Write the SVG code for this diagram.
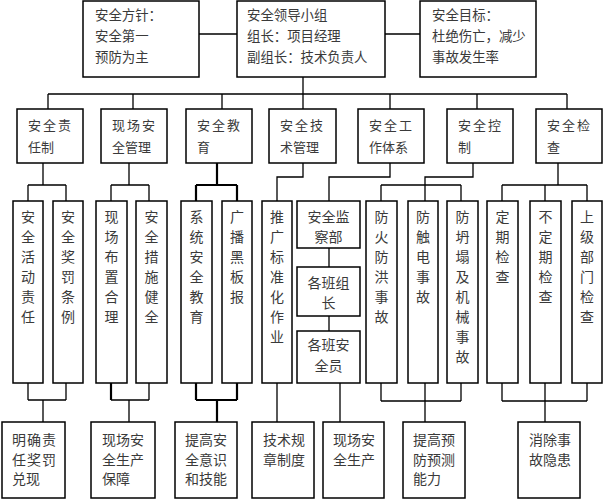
<svg xmlns="http://www.w3.org/2000/svg" width="604" height="500" viewBox="0 0 604 500">
<style>
.box{fill:#fff;stroke:#000;stroke-width:1.5}
.c{fill:none;stroke:#000;stroke-width:1.3}
.ck{fill:none;stroke:#000;stroke-width:2.2}
text{font-family:"Noto Sans CJK SC",sans-serif;font-size:14px;fill:#3a3a3a}
.s{font-size:13px}
.top{font-size:13.4px}
.m{text-anchor:middle}
</style>
<rect width="604" height="500" fill="#fff"/>
<g id="connectors">
<path class="c" d="M199 34H237M385 34H420M303 77V94M48 94H567M48 94V109M133 94V109M222 94V109M303 94V109M390 94V109M477 94V109M567 94V109"/>
<path class="c" d="M43 163V185M28 185H66M28 185V201M66 185V201"/>
<path class="c" d="M129 163V185M111 185H149M111 185V201M149 185V201"/>
<path class="ck" d="M217 163V185M196 185H237M196 185V201M237 185V201"/>
<path class="c" d="M303 163V177H277V201"/>
<path class="c" d="M390 163V177H329V201M329 248V267M329 316V331"/>
<path class="c" d="M473 163V177H425V185M381 185H461M381 185V201M425 185V201M461 185V201"/>
<path class="c" d="M558 163V185M502 185H587M502 185V201M545 185V201M587 185V201"/>
<path class="c" d="M28 383V400M66 383V400M28 400H66M43 400V422"/>
<path class="ck" d="M111 383V400"/>
<path class="c" d="M149 383V400M111 400H149M129 400V422"/>
<path class="ck" d="M196 383V400M237 383V400M196 400H237M217 400V422"/>
<path class="c" d="M277 383V422M340 383V422"/>
<path class="c" d="M381 383V401M425 383V401M461 383V401M381 401H461M425 401V422"/>
<path class="c" d="M502 383V401M545 383V401M587 383V401M502 401H587M545 401V422"/>
</g>
<g id="n-policy"><rect class="box" x="83" y="1" width="116" height="76"/><text class="top" x="95" y="20">安全方针：<tspan x="95" dy="21">安全第一</tspan><tspan x="95" dy="21">预防为主</tspan></text></g>
<g id="n-leader"><rect class="box" x="237" y="1" width="148" height="76"/><text class="top" x="247" y="20">安全领导小组<tspan x="247" dy="21">组长：项目经理</tspan><tspan x="247" dy="21">副组长：技术负责人</tspan></text></g>
<g id="n-goal"><rect class="box" x="420" y="1" width="116" height="76"/><text class="top" x="432" y="20">安全目标：<tspan x="432" dy="21">杜绝伤亡，减少</tspan><tspan x="432" dy="21">事故发生率</tspan></text></g>

<g id="n-a"><rect class="box" x="17" y="109" width="66" height="54"/><text class="s" x="28" y="130" letter-spacing="2">安全责</text><text class="s" x="28" y="152">任制</text></g>
<g id="n-b"><rect class="box" x="101" y="109" width="66" height="54"/><text class="s" x="112" y="130" letter-spacing="2">现场安</text><text class="s" x="112" y="152">全管理</text></g>
<g id="n-c"><rect class="box" x="186" y="109" width="66" height="54"/><text class="s" x="197" y="130" letter-spacing="2">安全教</text><text class="s" x="197" y="152">育</text></g>
<g id="n-d"><rect class="box" x="269" y="109" width="67" height="54"/><text class="s" x="280" y="130" letter-spacing="2">安全技</text><text class="s" x="280" y="152">术管理</text></g>
<g id="n-e"><rect class="box" x="358" y="109" width="66" height="54"/><text class="s" x="369" y="130" letter-spacing="2">安全工</text><text class="s" x="369" y="152">作体系</text></g>
<g id="n-f"><rect class="box" x="447" y="109" width="66" height="54"/><text class="s" x="458" y="130" letter-spacing="2">安全控</text><text class="s" x="458" y="152">制</text></g>
<g id="n-g"><rect class="box" x="536" y="109" width="66" height="54"/><text class="s" x="547" y="130" letter-spacing="2">安全检</text><text class="s" x="547" y="152">查</text></g>

<g id="n-a1"><rect class="box" x="13" y="201" width="30" height="182"/><text class="m" x="28" y="222">安<tspan x="28" dy="20">全</tspan><tspan x="28" dy="20">活</tspan><tspan x="28" dy="20">动</tspan><tspan x="28" dy="20">责</tspan><tspan x="28" dy="20">任</tspan></text></g>
<g id="n-a2"><rect class="box" x="53" y="201" width="30" height="182"/><text class="m" x="68" y="222">安<tspan x="68" dy="20">全</tspan><tspan x="68" dy="20">奖</tspan><tspan x="68" dy="20">罚</tspan><tspan x="68" dy="20">条</tspan><tspan x="68" dy="20">例</tspan></text></g>
<g id="n-b1"><rect class="box" x="96" y="201" width="31" height="182"/><text class="m" x="111.5" y="222">现<tspan x="111.5" dy="20">场</tspan><tspan x="111.5" dy="20">布</tspan><tspan x="111.5" dy="20">置</tspan><tspan x="111.5" dy="20">合</tspan><tspan x="111.5" dy="20">理</tspan></text></g>
<g id="n-b2"><rect class="box" x="136" y="201" width="31" height="182"/><text class="m" x="151.5" y="222">安<tspan x="151.5" dy="20">全</tspan><tspan x="151.5" dy="20">措</tspan><tspan x="151.5" dy="20">施</tspan><tspan x="151.5" dy="20">健</tspan><tspan x="151.5" dy="20">全</tspan></text></g>
<g id="n-c1"><rect class="box" x="181" y="201" width="31" height="182"/><text class="m" x="196.5" y="222">系<tspan x="196.5" dy="20">统</tspan><tspan x="196.5" dy="20">安</tspan><tspan x="196.5" dy="20">全</tspan><tspan x="196.5" dy="20">教</tspan><tspan x="196.5" dy="20">育</tspan></text></g>
<g id="n-c2"><rect class="box" x="222" y="201" width="30" height="182"/><text class="m" x="237" y="222">广<tspan x="237" dy="20">播</tspan><tspan x="237" dy="20">黑</tspan><tspan x="237" dy="20">板</tspan><tspan x="237" dy="20">报</tspan></text></g>
<g id="n-d1"><rect class="box" x="262" y="201" width="30" height="182"/><text class="m" x="277" y="222">推<tspan x="277" dy="20">广</tspan><tspan x="277" dy="20">标</tspan><tspan x="277" dy="20">准</tspan><tspan x="277" dy="20">化</tspan><tspan x="277" dy="20">作</tspan><tspan x="277" dy="20">业</tspan></text></g>
<g id="n-e1"><rect class="box" x="297" y="201" width="63" height="47"/><text class="m" x="328.5" y="222">安全监<tspan x="328.5" dy="20">察部</tspan></text></g>
<g id="n-e2"><rect class="box" x="297" y="267" width="63" height="49"/><text class="m" x="328.5" y="288">各班组<tspan x="328.5" dy="20">长</tspan></text></g>
<g id="n-e3"><rect class="box" x="297" y="331" width="63" height="52"/><text class="m" x="328.5" y="350">各班安<tspan x="328.5" dy="21">全员</tspan></text></g>
<g id="n-f1"><rect class="box" x="366" y="201" width="31" height="182"/><text class="m" x="381.5" y="222">防<tspan x="381.5" dy="20">火</tspan><tspan x="381.5" dy="20">防</tspan><tspan x="381.5" dy="20">洪</tspan><tspan x="381.5" dy="20">事</tspan><tspan x="381.5" dy="20">故</tspan></text></g>
<g id="n-f2"><rect class="box" x="408" y="201" width="30" height="182"/><text class="m" x="423" y="222">防<tspan x="423" dy="20">触</tspan><tspan x="423" dy="20">电</tspan><tspan x="423" dy="20">事</tspan><tspan x="423" dy="20">故</tspan></text></g>
<g id="n-f3"><rect class="box" x="447" y="201" width="31" height="182"/><text class="m" x="462.5" y="222">防<tspan x="462.5" dy="20">坍</tspan><tspan x="462.5" dy="20">塌</tspan><tspan x="462.5" dy="20">及</tspan><tspan x="462.5" dy="20">机</tspan><tspan x="462.5" dy="20">械</tspan><tspan x="462.5" dy="20">事</tspan><tspan x="462.5" dy="20">故</tspan></text></g>
<g id="n-g1"><rect class="box" x="487" y="201" width="31" height="182"/><text class="m" x="502.5" y="222">定<tspan x="502.5" dy="20">期</tspan><tspan x="502.5" dy="20">检</tspan><tspan x="502.5" dy="20">查</tspan></text></g>
<g id="n-g2"><rect class="box" x="530" y="201" width="31" height="182"/><text class="m" x="545.5" y="222">不<tspan x="545.5" dy="20">定</tspan><tspan x="545.5" dy="20">期</tspan><tspan x="545.5" dy="20">检</tspan><tspan x="545.5" dy="20">查</tspan></text></g>
<g id="n-g3"><rect class="box" x="572" y="201" width="30" height="182"/><text class="m" x="587" y="222">上<tspan x="587" dy="20">级</tspan><tspan x="587" dy="20">部</tspan><tspan x="587" dy="20">门</tspan><tspan x="587" dy="20">检</tspan><tspan x="587" dy="20">查</tspan></text></g>

<g id="n-ra"><rect class="box" x="2" y="422" width="63" height="76"/><text x="12" y="445" letter-spacing="1">明确责<tspan x="12" dy="19.5">任奖罚</tspan></text><text x="12" y="484">兑现</text></g>
<g id="n-rb"><rect class="box" x="91" y="422" width="64" height="76"/><text x="102" y="445">现场安<tspan x="102" dy="19.5">全生产</tspan><tspan x="102" dy="19.5">保障</tspan></text></g>
<g id="n-rc"><rect class="box" x="175" y="422" width="62" height="76"/><text x="185" y="445">提高安<tspan x="185" dy="19.5">全意识</tspan><tspan x="185" dy="19.5">和技能</tspan></text></g>
<g id="n-rd"><rect class="box" x="252" y="422" width="62" height="76"/><text x="263" y="445">技术规<tspan x="263" dy="19.5">章制度</tspan></text></g>
<g id="n-re"><rect class="box" x="323" y="422" width="61" height="76"/><text x="333" y="445">现场安<tspan x="333" dy="19.5">全生产</tspan></text></g>
<g id="n-rf"><rect class="box" x="403" y="422" width="62" height="76"/><text x="413" y="445">提高预<tspan x="413" dy="19.5">防预测</tspan><tspan x="413" dy="19.5">能力</tspan></text></g>
<g id="n-rg"><rect class="box" x="518" y="422" width="62" height="76"/><text x="529" y="445">消除事<tspan x="529" dy="19.5">故隐患</tspan></text></g>
</svg>
